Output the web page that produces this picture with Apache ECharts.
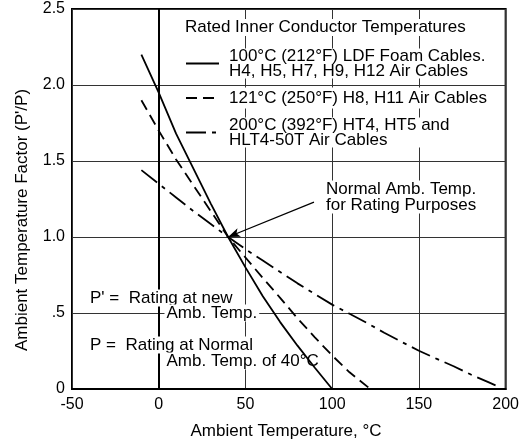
<!DOCTYPE html>
<html><head><meta charset="utf-8">
<script src="https://cdn.jsdelivr.net/npm/echarts@6/dist/echarts.min.js"></script>
<style>html,body{margin:0;padding:0;background:#fff}#c{width:522px;height:444px}</style>
</head><body><div id="c"></div>
<script>
// ---- data ----
const solidTemp   = [-10, 0, 10, 20, 30, 40, 50, 60, 70, 80, 90, 100];
const solidFactor = [2.20, 1.95, 1.68, 1.45, 1.22, 1.00, 0.80, 0.61, 0.44, 0.285, 0.14, 0];

const dashedTemp   = [-10, 0, 10, 20, 30, 40, 50, 60, 70, 80, 90, 100, 110, 122];
const dashedFactor = [1.90, 1.70, 1.51, 1.34, 1.17, 1.00, 0.865, 0.73, 0.60, 0.465, 0.34, 0.22, 0.11, 0];

const dashDotTemp   = [-10, 0, 10, 20, 30, 40, 50, 60, 70, 80, 90, 100, 110, 120, 130, 140, 150, 160, 170, 180, 190, 197];
const dashDotFactor = [1.44, 1.35, 1.26, 1.17, 1.085, 1.00, 0.92, 0.845, 0.77, 0.695, 0.625, 0.555, 0.495, 0.435, 0.37, 0.31, 0.252, 0.20, 0.15, 0.095, 0.045, 0.01];

const seriesNames = ['100C', '121C', '200C'];
const legendLabels = [
  '100°C (212°F) LDF Foam Cables.\nH4, H5, H7, H9, H12 Air Cables',
  '121°C (250°F) H8, H11 Air Cables',
  '200°C (392°F) HT4, HT5 and\nHLT4-50T Air Cables'
];
const yTickLabels = ['0', '.5', '1.0', '1.5', '2.0', '2.5'];
const ratingPoint = [40, 1.0];
const arrowFrom = [89.5, 1.23];

// ---- chart ----
const FONT = '"Liberation Sans", Arial, Helvetica, sans-serif';
const chart = echarts.init(document.getElementById('c'), null, {renderer: 'canvas'});
const pairs = (xs, ys) => xs.map((x, i) => [x, ys[i]]);
const lineW = 1.8;

function txt(text, x, y, extra) {
  return {
    type: 'text', z: 1,
    style: Object.assign({
      text: text, x: x, y: y,
      font: '17px ' + FONT, fill: '#000',
      verticalAlign: 'middle', align: 'left',
      backgroundColor: '#fff', padding: [0, 2, 0, 2]
    }, extra || {})
  };
}

const legendText = {color: '#000', fontSize: 17, fontFamily: FONT, lineHeight: 15,
  backgroundColor: '#fff', padding: [0, 2, 0, 5]};

const option = {
  animation: false,
  backgroundColor: '#fff',
  grid: {left: 72, right: 16, top: 9, bottom: 55, show: true, borderColor: '#000', borderWidth: 2, backgroundColor: 'transparent'},
  xAxis: {
    type: 'value', min: -50, max: 200, interval: 50,
    axisLine: {show: true, lineStyle: {color: '#000', width: 2}},
    axisTick: {show: false},
    axisLabel: {color: '#000', fontSize: 16, fontFamily: FONT, margin: 8},
    splitLine: {show: true, lineStyle: {color: '#333', width: 1}}
  },
  yAxis: {
    type: 'value', min: 0, max: 2.5, interval: 0.5,
    axisLine: {show: true, lineStyle: {color: '#000', width: 2}},
    axisTick: {show: false},
    axisLabel: {color: '#000', fontSize: 16, fontFamily: FONT, margin: 7,
      formatter: v => yTickLabels[Math.round(v / 0.5)]},
    splitLine: {show: true, lineStyle: {color: '#333', width: 1}}
  },
  legend: {
    show: true, orient: 'vertical', left: 185, top: 47.5, padding: 0,
    itemWidth: 33, itemHeight: 14, itemGap: 8, selectedMode: false,
    itemStyle: {opacity: 0},
    data: [
      {name: seriesNames[0]},
      {name: seriesNames[1], textStyle: Object.assign({}, legendText, {padding: [6, 2, 0, 5]})},
      {name: seriesNames[2]}
    ],
    formatter: name => legendLabels[seriesNames.indexOf(name)],
    textStyle: legendText
  },
  series: [
    {
      name: seriesNames[0], type: 'line', data: pairs(solidTemp, solidFactor),
      symbol: 'none', smooth: false,
      lineStyle: {color: '#000', width: lineW, type: 'solid'},
      itemStyle: {color: '#000'},
      markLine: {
        silent: true, symbol: ['none', 'arrow'], symbolSize: [7, 12],
        label: {show: false},
        lineStyle: {color: '#000', width: 1.3, type: 'solid'},
        data: [[{coord: arrowFrom}, {coord: ratingPoint}]]
      }
    },
    {
      name: seriesNames[1], type: 'line', data: pairs(dashedTemp, dashedFactor),
      symbol: 'none', smooth: false,
      lineStyle: {color: '#000', width: lineW, type: [11, 6]},
      itemStyle: {color: '#000'}
    },
    {
      name: seriesNames[2], type: 'line', data: pairs(dashDotTemp, dashDotFactor),
      symbol: 'none', smooth: false,
      lineStyle: {color: '#000', width: lineW, type: [20, 6, 4, 6]},
      itemStyle: {color: '#000'}
    }
  ],
  graphic: [
    txt('Rated Inner Conductor Temperatures', 183, 27.5),
    txt('Normal Amb. Temp.', 324, 189),
    txt('for Rating Purposes', 324, 205),
    txt("P' =  Rating at new", 88, 298),
    txt('Amb. Temp.', 164.5, 313),
    txt('P =  Rating at Normal', 88, 345),
    txt('Amb. Temp. of 40°C', 164.5, 361),
    txt('Ambient Temperature, °C', 286, 431, {align: 'center', backgroundColor: 'transparent'}),
    {type: 'text', z: 1, x: 22, y: 220, rotation: Math.PI / 2,
      style: {text: "Ambient Temperature Factor (P'/P)", x: 0, y: 0, font: '17px ' + FONT, fill: '#000',
        align: 'center', verticalAlign: 'middle'}}
  ]
};
chart.setOption(option);
</script>
</body></html>
